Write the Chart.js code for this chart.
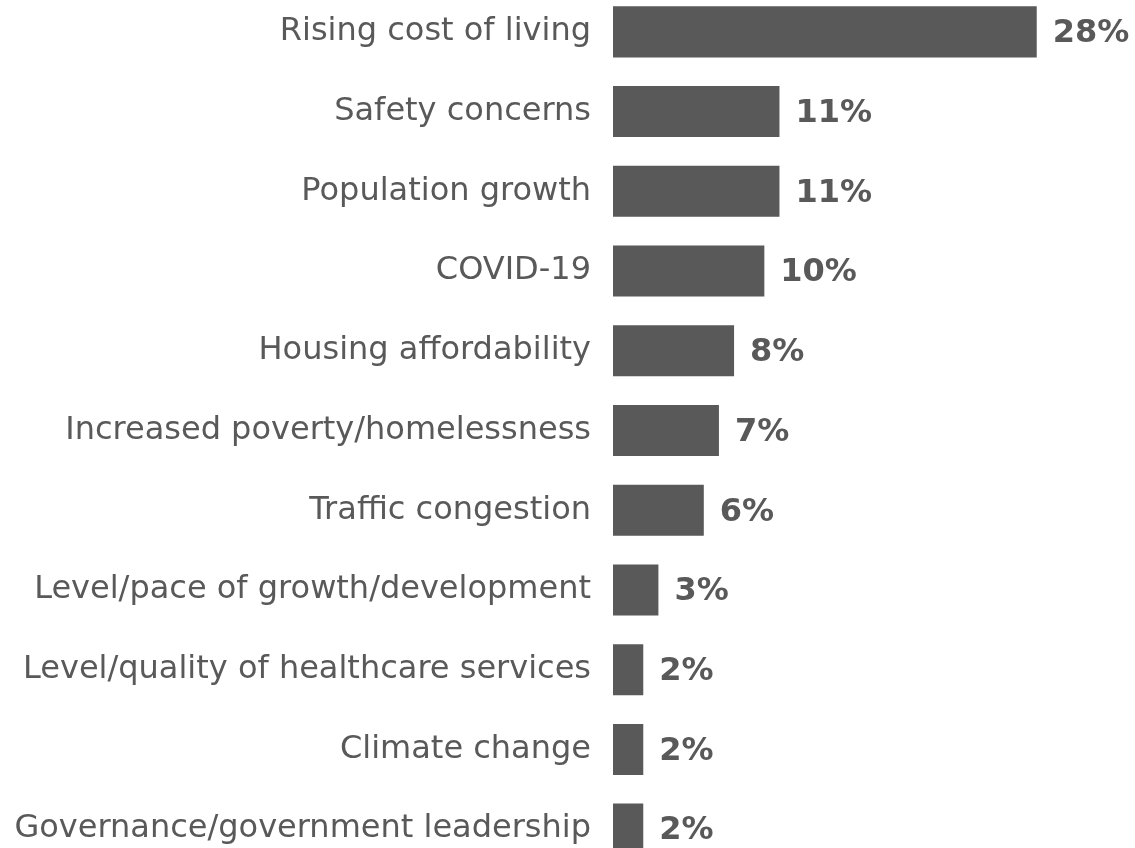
<!DOCTYPE html>
<html>
<head>
<meta charset="utf-8">
<script src="https://cdn.jsdelivr.net/npm/chart.js@4/dist/chart.umd.min.js"></script>
<style>
  html, body { margin: 0; padding: 0; background: #fff; overflow: hidden; }
  #wrap { position: absolute; left: 0; top: -8px; width: 1135px; height: 877px; }
</style>
</head>
<body>
<div id="wrap"><canvas id="canvas" width="1135" height="877"></canvas></div>
<script>
var issues = [
  "Rising cost of living",
  "Safety concerns",
  "Population growth",
  "COVID-19",
  "Housing affordability",
  "Increased poverty/homelessness",
  "Traffic congestion",
  "Level/pace of growth/development",
  "Level/quality of healthcare services",
  "Climate change",
  "Governance/government leadership"
];
var shares = [28, 11, 11, 10, 8, 7, 6, 3, 2, 2, 2];

var grey = "#595959";

// percent labels to the right of each bar
var valueLabels = {
  id: "valueLabels",
  afterDatasetsDraw: function(chart) {
    var ctx = chart.ctx;
    var meta = chart.getDatasetMeta(0);
    ctx.save();
    ctx.font = "bold 32px 'DejaVu Sans'";
    ctx.fillStyle = grey;
    ctx.textAlign = "left";
    ctx.textBaseline = "middle";
    meta.data.forEach(function(bar, i) {
      ctx.fillText(shares[i] + "%", bar.x + 16, bar.y + 2);
    });
    ctx.restore();
  }
};

var config = {
  type: "bar",
  data: {
    labels: issues,
    datasets: [
      {
        data: shares,
        backgroundColor: grey,
        borderWidth: 0,
        barPercentage: 0.64,
        categoryPercentage: 1
      }
    ]
  },
  options: {
    indexAxis: "y",
    responsive: false,
    animation: false,
    layout: { padding: { left: 0, right: 68, top: 0, bottom: 0 } },
    plugins: {
      legend: { display: false },
      tooltip: { enabled: false }
    },
    scales: {
      x: {
        display: false,
        min: 0,
        max: 30
      },
      y: {
        grid: { display: false },
        border: { display: false },
        ticks: {
          color: grey,
          padding: 14,
          font: { family: "'DejaVu Sans'", size: 32 }
        },
        afterFit: function(scale) {
          // fixed label column, and no extra room above/below the bars
          scale.width = 613;
          scale.paddingTop = 0;
          scale.paddingBottom = 0;
        }
      }
    }
  },
  plugins: [valueLabels]
};

window.onload = function() {
  var ctx = document.getElementById("canvas").getContext("2d");
  window.myBar = new Chart(ctx, config);
};
</script>
</body>
</html>
